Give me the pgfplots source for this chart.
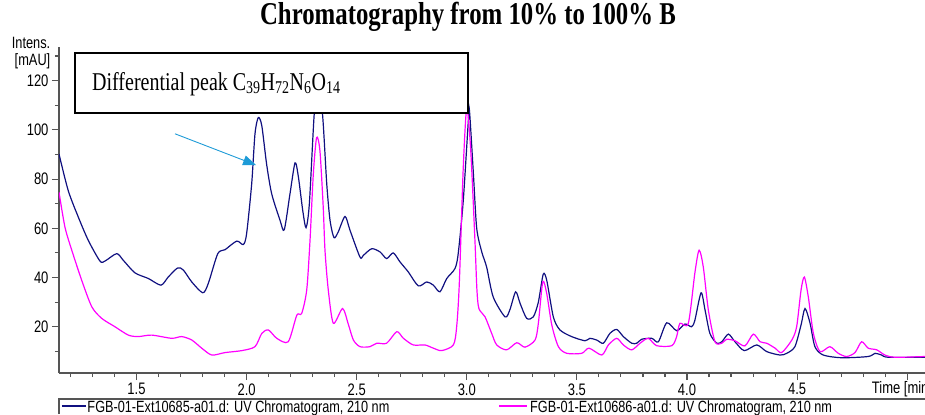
\documentclass[border=0pt]{standalone}
\usepackage{fontspec}
\setmainfont{Liberation Serif}
\setsansfont{Liberation Sans}
\usepackage{graphicx}
\usepackage{pgfplots}
\pgfplotsset{compat=1.18}
\usetikzlibrary{arrows.meta}

\definecolor{navytrace}{RGB}{16,16,128}
\definecolor{magtrace}{RGB}{255,0,255}
\definecolor{spine}{RGB}{85,85,85}
\definecolor{arrowblue}{RGB}{30,155,215}
% the reference is stretched vertically, so text is too
\newcommand\vs[1]{\scalebox{1}[1.28]{#1}}

\pgfplotstableread{
t v
1.148 90.2
1.190 75.3
1.236 64.5
1.281 55.1
1.334 46.7
1.357 46.7
1.410 49.7
1.440 47.0
1.493 41.9
1.554 39.6
1.611 36.9
1.644 40.2
1.687 43.9
1.713 43.0
1.751 38.2
1.801 33.8
1.826 37.6
1.869 49.7
1.902 51.3
1.955 54.8
1.985 53.4
2.000 57.8
2.023 78.0
2.038 98.3
2.053 105.0
2.069 101.7
2.091 86.0
2.114 74.0
2.152 63.2
2.171 59.4
2.197 74.0
2.220 86.6
2.235 81.0
2.255 67.2
2.270 60.3
2.285 70.0
2.306 105.0
2.324 124.0
2.346 105.0
2.364 78.0
2.379 63.2
2.397 56.2
2.416 58.5
2.447 64.8
2.470 59.1
2.515 48.3
2.530 49.0
2.568 51.7
2.606 50.4
2.636 47.7
2.666 50.0
2.697 46.3
2.734 42.3
2.780 36.6
2.818 38.2
2.848 36.9
2.878 34.2
2.909 39.6
2.946 43.6
2.961 49.7
2.984 71.3
3.007 103.7
3.012 108.0
3.030 82.1
3.045 60.0
3.068 50.4
3.090 44.3
3.120 32.1
3.174 24.0
3.196 27.0
3.222 34.2
3.242 29.5
3.272 23.4
3.302 24.0
3.325 30.0
3.347 41.3
3.363 38.9
3.393 24.0
3.423 18.7
3.476 16.0
3.537 14.3
3.559 15.3
3.590 14.6
3.620 13.3
3.650 17.3
3.681 18.9
3.711 16.0
3.749 13.3
3.772 13.3
3.794 14.9
3.840 15.3
3.870 13.9
3.908 21.6
3.953 18.4
3.991 21.1
4.021 20.0
4.036 22.7
4.064 33.8
4.082 26.8
4.104 17.3
4.135 13.3
4.158 13.9
4.188 17.0
4.218 13.9
4.260 10.3
4.317 12.6
4.362 9.9
4.422 8.5
4.453 9.2
4.490 11.9
4.518 20.7
4.536 27.4
4.559 21.4
4.581 11.9
4.619 8.5
4.703 7.4
4.823 7.9
4.854 9.2
4.884 8.5
4.914 7.6
5.081 7.6
}\navydata

\pgfplotstableread{
t v
1.148 74.7
1.175 60.5
1.206 51.1
1.251 38.9
1.297 28.1
1.342 23.4
1.402 20.0
1.463 16.6
1.508 16.0
1.569 16.6
1.660 15.3
1.705 16.0
1.751 14.6
1.796 11.3
1.842 8.5
1.902 9.5
1.978 10.3
2.038 11.9
2.069 17.3
2.099 18.7
2.137 15.3
2.189 13.9
2.228 24.7
2.250 25.4
2.273 34.9
2.288 55.1
2.303 82.1
2.318 96.9
2.333 91.5
2.348 68.6
2.356 51.0
2.371 34.9
2.394 21.4
2.436 27.4
2.462 21.0
2.485 14.6
2.515 11.9
2.560 11.9
2.591 13.3
2.636 13.3
2.682 18.0
2.712 15.3
2.757 12.6
2.810 12.6
2.848 11.3
2.886 10.3
2.939 12.6
2.954 20.0
2.966 37.6
2.984 84.8
3.000 109.0
3.018 91.5
3.037 55.0
3.046 35.0
3.055 27.4
3.083 24.0
3.113 17.3
3.136 12.6
3.181 10.6
3.227 13.5
3.264 11.7
3.310 14.6
3.325 21.4
3.345 38.2
3.363 33.5
3.386 20.7
3.416 11.9
3.454 9.2
3.522 9.2
3.555 11.3
3.613 8.5
3.643 12.6
3.681 15.3
3.711 12.6
3.749 10.6
3.787 13.3
3.824 15.3
3.862 12.3
3.931 12.3
3.953 16.0
3.968 21.4
4.006 21.4
4.036 42.0
4.055 51.1
4.074 44.3
4.097 26.8
4.127 13.9
4.158 13.3
4.180 14.9
4.218 14.3
4.263 12.2
4.301 17.0
4.332 13.9
4.362 13.3
4.400 11.3
4.430 9.5
4.476 14.6
4.498 20.0
4.518 34.9
4.533 40.2
4.551 32.1
4.574 17.3
4.604 9.9
4.649 11.9
4.687 9.2
4.725 7.9
4.763 9.5
4.793 13.9
4.823 11.3
4.862 10.6
4.899 8.5
4.945 7.6
5.081 7.9
}\magdata

\begin{document}
\begin{tikzpicture}[x=1bp,y=1bp]
\begin{axis}[
  scale only axis, width=866bp, height=326.3bp,
  xmin=1.148, xmax=5.081, ymin=1.2, ymax=133.8,
  axis x line*=bottom, axis y line*=left,
  axis line style={spine, line width=1.6bp},
  tick style={spine, line width=1.1bp},
  tick align=outside,
  major tick length=7bp, minor tick length=4bp,
  xtick={1.5,2.0,2.5,3.0,3.5,4.0,4.5},
  minor xtick={1.2,1.3,...,5.0},
  extra x ticks={5.0}, extra x tick labels={},
  extra x tick style={grid=none},
  ytick={20,40,60,80,100,120},
  minor ytick={10,30,50,70,90,110,130},
  /pgf/number format/assume math mode=true,
  xticklabel={\vs{\pgfmathprintnumber[fixed,fixed zerofill,precision=1]{\tick}}},
  yticklabel={\vs{\pgfmathprintnumber{\tick}}},
  tick label style={font=\fontsize{13bp}{15bp}\selectfont\sffamily, text=black},
]
\coordinate (AO) at (rel axis cs:0,0);
\addplot[navytrace, line width=1.2bp, smooth, tension=0.45] table[x=t, y=v] {\navydata};
\addplot[magtrace, line width=1.2bp, smooth, tension=0.45] table[x=t, y=v] {\magdata};
\draw[arrowblue, line width=0.9bp, -{Triangle[length=13bp,width=10bp]}]
  (axis cs:1.675,98.4) -- (axis cs:2.043,85.7);
\end{axis}

% page origin: the axis corner sits 59 px in and 41 px up
\path (AO) ++(-59,-41) coordinate (O);
\begin{scope}[shift={(O)}]
% title
\node[anchor=base, font=\fontsize{24.8bp}{28bp}\selectfont\bfseries] at (468,390)
  {\vs{Chromatography from 10\% to 100\% B}};

% annotation box, it hides the top of the big peaks
\draw[black, line width=1.5bp, fill=white] (75,301) rectangle (468,361);
\node[anchor=base west, inner sep=0pt, font=\fontsize{20bp}{24bp}\selectfont] at (92,324)
  {\vs{Differential peak C\textsubscript{39}H\textsubscript{72}N\textsubscript{6}O\textsubscript{14}}};

% axis titles
\node[anchor=base east, inner sep=0pt, font=\fontsize{12.8bp}{15bp}\selectfont\sffamily] at (50.5,366) {\vs{Intens.}};
\node[anchor=base east, inner sep=0pt, font=\fontsize{12.8bp}{15bp}\selectfont\sffamily] at (50.5,349) {\vs{[mAU]}};
\node[anchor=base west, inner sep=0pt, font=\fontsize{13bp}{15bp}\selectfont\sffamily] at (871.7,21) {\vs{Time [min]}};

% legend strip at the bottom
\draw[spine, line width=1.2bp] (59,0) -- (59,15) -- (925,15);
\draw[navytrace, line width=1.2bp] (62,8) -- (86,8);
\node[anchor=base west, inner sep=0pt, font=\fontsize{12.7bp}{15bp}\selectfont\sffamily] at (87.3,2)
  {\vs{FGB-01-Ext10685-a01.d: UV Chromatogram, 210 nm}};
\draw[magtrace, line width=1.2bp] (499,8) -- (527,8);
\node[anchor=base west, inner sep=0pt, font=\fontsize{12.7bp}{15bp}\selectfont\sffamily] at (530,2)
  {\vs{FGB-01-Ext10686-a01.d: UV Chromatogram, 210 nm}};

\pgfresetboundingbox
\useasboundingbox (0,0) rectangle (925,414);
\end{scope}
\end{tikzpicture}
\end{document}
